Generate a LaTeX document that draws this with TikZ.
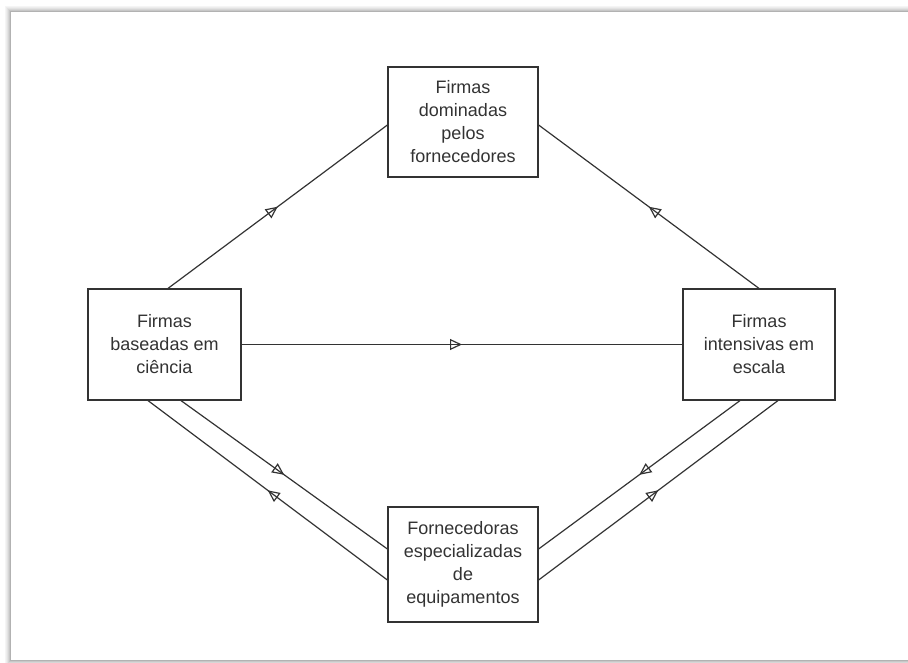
\documentclass[tikz,border=0pt]{standalone}
\usepackage{fontspec}
\setmainfont{Liberation Sans}
\usetikzlibrary{arrows.meta,decorations.markings}
\definecolor{ink}{HTML}{333333}
\tikzset{
  box/.style={draw=ink, line width=1.2pt, fill=white, align=center, text=ink,
    font=\fontsize{18}{23}\selectfont, inner sep=0pt},
  conn/.style={draw=ink, line width=1.2pt, postaction={decorate},
    decoration={markings, mark=at position 0.5 with {\arrow{Triangle[open,length=12pt,width=11pt,line width=1.2pt]}}}},
}
\begin{document}
\begin{tikzpicture}[x=1pt,y=-1pt]
\useasboundingbox (0,0) rectangle (908,663);
% page frame with soft shadow
\foreach \d/\c in {5/4,4/7,3/11,2/16,1/22}{
  \draw[black!\c, line width=1pt] (10-\d,12-\d) rectangle (930,660+\d);
}
\draw[black!30, line width=1pt] (10,12) rectangle (930,660);

\node[box, minimum width=150pt, minimum height=110pt] (T) at (463,122)
  {Firmas\\dominadas\\pelos\\fornecedores};
\node[box, minimum width=153pt, minimum height=111pt] (L) at (164.5,344.5)
  {Firmas\\baseadas em\\ciência};
\node[box, minimum width=152pt, minimum height=111pt] (R) at (759,344.5)
  {Firmas\\intensivas em\\escala};
\node[box, minimum width=150pt, minimum height=115pt] (B) at (463,564.5)
  {Fornecedoras\\especializadas\\de\\equipamentos};

\draw[conn] ([xshift=3.5pt]L.north) -- ([yshift=-3pt]T.west);
\draw[conn] (R.north) -- ([yshift=-3pt]T.east);
\draw[conn] (L.east) -- (R.west);
\draw[conn] ([xshift=16.5pt]L.south) -- ([yshift=15.5pt]B.west);
\draw[conn] ([yshift=-15.5pt]B.west) -- ([xshift=-16.5pt]L.south);
\draw[conn] ([xshift=-19pt]R.south) -- ([yshift=15.5pt]B.east);
\draw[conn] ([yshift=-15.5pt]B.east) -- ([xshift=19pt]R.south);
\end{tikzpicture}
\end{document}
